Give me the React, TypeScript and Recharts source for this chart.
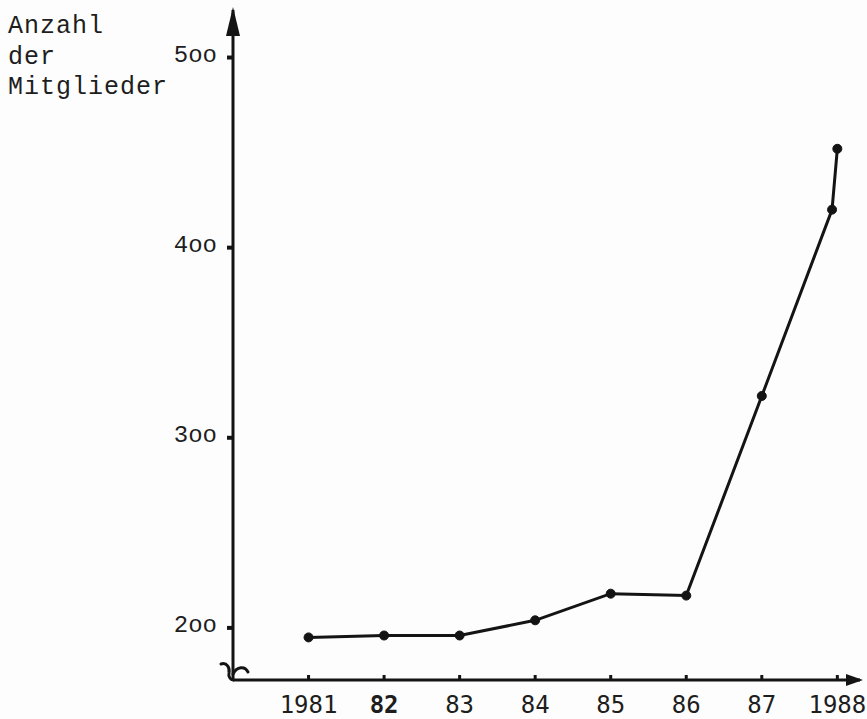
import React from 'react';
import { LineChart, Line, XAxis, YAxis, ReferenceDot } from 'recharts';

// Mitgliederzahlen
const YEARS = [1981, 1982, 1983, 1984, 1985, 1986, 1987, 1987.93, 1988];
const MEMBERS = [195, 196, 196, 204, 218, 217, 322, 420, 452];

const X_TICKS = [1981, 1982, 1983, 1984, 1985, 1986, 1987, 1988];
const X_LABELS = ['1981', '82', '83', '84', '85', '86', '87', '1988'];
const Y_TICKS = [200, 300, 400, 500];
const Y_LABELS = ['2oo', '3oo', '4oo', '5oo'];
const TITLE_LINES = ['Anzahl', 'der', 'Mitglieder'];

const X_DOMAIN = [1980, 1988.3];
const Y_DOMAIN = [172.6, 525];

const INK = '#141414';

const chartData = YEARS.map((year, i) => ({ year, members: MEMBERS[i] }));

const XTick = (props: any) => {
    const { x, y, payload } = props;
    const idx = X_TICKS.indexOf(payload.value);
    const label = idx >= 0 ? X_LABELS[idx] : String(payload.value);
    return (
        <g>
            <line x1={x} y1={y - 5} x2={x} y2={y} stroke={INK} strokeWidth={3} />
            <text
                x={x}
                y={y + 33}
                textAnchor="middle"
                fontFamily="'DejaVu Sans Mono', monospace"
                fontSize={24}
                fontWeight={label === '82' ? 700 : 400}
                fill="#1e1e1e"
            >
                {label}
            </text>
        </g>
    );
};

const YTick = (props: any) => {
    const { x, y, payload } = props;
    const idx = Y_TICKS.indexOf(payload.value);
    const label = idx >= 0 ? Y_LABELS[idx] : String(payload.value);
    return (
        <g>
            <line x1={x - 6} y1={y} x2={x} y2={y} stroke={INK} strokeWidth={4} />
            <text
                x={x - 16}
                y={y + 4}
                textAnchor="end"
                fontFamily="'Liberation Mono', monospace"
                fontSize={24}
                fill="#1e1e1e"
            >
                {label}
            </text>
        </g>
    );
};

const UpArrow = (props: any) => {
    const { cx, cy } = props;
    return <path d={`M${cx},${cy - 3} L${cx - 7},${cy + 26} L${cx + 7},${cy + 26} Z`} fill={INK} />;
};

const RightArrow = (props: any) => {
    const { cx, cy } = props;
    return <path d={`M${cx + 3},${cy} L${cx - 14},${cy - 6} L${cx - 14},${cy + 6} Z`} fill={INK} />;
};

const AxisBreak = (props: any) => {
    const { cx, cy } = props;
    return (
        <path
            d={`M${cx - 12},${cy - 16} C${cx - 6},${cy - 18} ${cx - 3},${cy - 12} ${cx - 4},${cy - 7}
                C${cx - 5},${cy - 3} ${cx - 2},${cy} ${cx},${cy}
                M${cx},${cy - 6} C${cx + 4},${cy - 14} ${cx + 12},${cy - 14} ${cx + 15},${cy - 8}`}
            fill="none"
            stroke={INK}
            strokeWidth={3}
            strokeLinecap="round"
        />
    );
};

export default function App() {
    return (
        <div style={{ position: 'absolute', left: 0, top: 0, width: 867, height: 719, background: '#fdfdfd' }}>
            <div
                style={{
                    position: 'absolute',
                    left: 8,
                    top: 12,
                    fontFamily: "'Liberation Mono', monospace",
                    fontSize: 25,
                    letterSpacing: 1,
                    lineHeight: '30.5px',
                    color: '#1e1e1e',
                }}
            >
                {TITLE_LINES.map((line) => (
                    <div key={line}>{line}</div>
                ))}
            </div>
            <LineChart
                width={867}
                height={719}
                data={chartData}
                margin={{ top: 10, right: 7, left: 0, bottom: 0 }}
                style={{ position: 'absolute', left: 0, top: 0 }}
            >
                <XAxis
                    dataKey="year"
                    type="number"
                    domain={X_DOMAIN}
                    ticks={X_TICKS}
                    height={39}
                    tickSize={0}
                    tickMargin={0}
                    tickLine={false}
                    axisLine={{ stroke: INK, strokeWidth: 3 }}
                    tick={<XTick />}
                    interval={0}
                />
                <YAxis
                    type="number"
                    domain={Y_DOMAIN}
                    ticks={Y_TICKS}
                    width={233}
                    tickSize={0}
                    tickMargin={0}
                    tickLine={false}
                    axisLine={{ stroke: INK, strokeWidth: 3 }}
                    tick={<YTick />}
                    interval={0}
                    allowDataOverflow
                />
                <ReferenceDot x={X_DOMAIN[0]} y={Y_DOMAIN[1]} ifOverflow="visible" shape={<UpArrow />} />
                <ReferenceDot x={X_DOMAIN[1]} y={Y_DOMAIN[0]} ifOverflow="visible" shape={<RightArrow />} />
                <ReferenceDot x={X_DOMAIN[0]} y={Y_DOMAIN[0]} ifOverflow="visible" shape={<AxisBreak />} />
                <Line
                    type="linear"
                    dataKey="members"
                    stroke={INK}
                    strokeWidth={3}
                    dot={{ r: 4.5, fill: INK, stroke: INK, strokeWidth: 1 }}
                    isAnimationActive={false}
                />
            </LineChart>
        </div>
    );
}
